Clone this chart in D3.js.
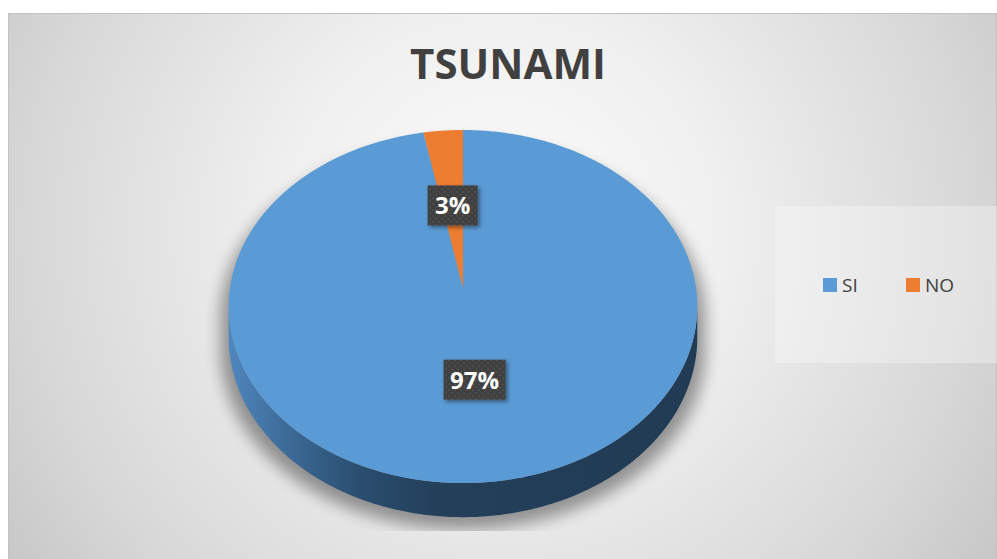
<!DOCTYPE html>
<html>
<head>
<meta charset="utf-8">
<script src="https://cdn.jsdelivr.net/npm/d3@7"></script>
<style>
  html, body { margin: 0; padding: 0; background: #fff; }
  svg { display: block; font-family: "Open Sans", "Noto Sans", sans-serif; }
</style>
</head>
<body>
<div id="wrapper"></div>
<script>
// data
const categories = ['SI', 'NO'];
const values = [97, 3];
const labels = ['97%', '3%'];
const colors = ['#5b9bd5', '#ed7d31'];
const chartTitle = 'TSUNAMI';

const width = 997, height = 559;
// pie geometry (perspective tilt)
const cx = 463, cy = 288;
const A = 233, B = 174.6, p = 0.105, H = 30.5;

const svg = d3.select('#wrapper').append('svg')
  .attr('width', width).attr('height', height);
const defs = svg.append('defs');

// background gradient
const bg = defs.append('radialGradient').attr('id', 'bg')
  .attr('gradientUnits', 'userSpaceOnUse')
  .attr('cx', 500).attr('cy', 230).attr('r', 620);
bg.append('stop').attr('offset', '0%').attr('stop-color', '#fbfbfb');
bg.append('stop').attr('offset', '35%').attr('stop-color', '#f0f0f0');
bg.append('stop').attr('offset', '75%').attr('stop-color', '#d8d8d8');
bg.append('stop').attr('offset', '100%').attr('stop-color', '#c4c4c4');

// side wall gradient
const sg = defs.append('linearGradient').attr('id', 'side')
  .attr('gradientUnits', 'userSpaceOnUse')
  .attr('x1', cx - A).attr('x2', cx + A).attr('y1', 0).attr('y2', 0);
[['0%', '#4f86bd'], ['12%', '#3d6b98'], ['28%', '#2a4d6e'], ['45%', '#233f5a'], ['100%', '#213b54']]
  .forEach(([o, c]) => sg.append('stop').attr('offset', o).attr('stop-color', c));

// dotted pattern for label boxes
const pat = defs.append('pattern').attr('id', 'dots')
  .attr('patternUnits', 'userSpaceOnUse').attr('width', 6).attr('height', 6);
pat.append('rect').attr('width', 6).attr('height', 6).attr('fill', '#3f3f3f');
pat.append('circle').attr('cx', 1.5).attr('cy', 1.5).attr('r', 0.7).attr('fill', '#6a6a6a');
pat.append('circle').attr('cx', 4.5).attr('cy', 4.5).attr('r', 0.7).attr('fill', '#6a6a6a');

const blur = defs.append('filter').attr('id', 'blur')
  .attr('x', '-20%').attr('y', '-20%').attr('width', '140%').attr('height', '140%');
blur.append('feGaussianBlur').attr('stdDeviation', 8);

const lblShadow = defs.append('filter').attr('id', 'lblShadow')
  .attr('x', '-30%').attr('y', '-30%').attr('width', '160%').attr('height', '160%');
lblShadow.append('feDropShadow').attr('dx', 2).attr('dy', 2).attr('stdDeviation', 2)
  .attr('flood-color', '#000').attr('flood-opacity', 0.45);

defs.append('clipPath').attr('id', 'shClip')
  .append('rect').attr('x', 0).attr('y', 0).attr('width', width).attr('height', 531);

// chart area
svg.append('rect')
  .attr('x', 8.5).attr('y', 13.5).attr('width', 988).attr('height', 560)
  .attr('fill', 'url(#bg)').attr('stroke', '#c2c2c2').attr('stroke-width', 1);

// title
svg.append('text')
  .attr('x', 508).attr('y', 79)
  .attr('text-anchor', 'middle')
  .attr('font-size', 42).attr('font-weight', 700)
  .attr('fill', '#404040')
  .text(chartTitle);

// projection helpers; angle measured clockwise from 12 o'clock
const proj = (a, r, dz) => {
  const u = r * Math.sin(a), v = r * Math.cos(a);
  const w = 1 + p * v;
  return [cx + A * u / w, cy - B * v / w + (dz || 0) * H / w];
};
const arcPts = (a0, a1, dz) => {
  const n = Math.max(2, Math.ceil(Math.abs(a1 - a0) / 0.01));
  return d3.range(n + 1).map(i => proj(a0 + (a1 - a0) * i / n, 1, dz));
};
const line = d3.line();

const pie = d3.pie().sort(null).value(d => d)(values);

// side wall (front half silhouette)
const t1 = Math.acos(-p), t2 = 2 * Math.PI - Math.acos(-p);
const sidePts = arcPts(t1, t2, 0).concat(arcPts(t2, t1, 1));

// shadow under the pie
const backPts = arcPts(t2 - 2 * Math.PI, t1, 0);
const shadowPts = backPts.concat(arcPts(t1, t2, 1))
  .map(([x, y]) => [cx + (x - cx) * 1.035, y + 12]);
svg.append('g').attr('clip-path', 'url(#shClip)')
  .append('path')
  .attr('d', line(shadowPts) + 'Z')
  .attr('fill', '#000').attr('opacity', 0.38)
  .attr('filter', 'url(#blur)');

svg.append('path')
  .attr('d', line(sidePts) + 'Z')
  .attr('fill', 'url(#side)');

// top faces
svg.append('g').selectAll('path')
  .data(pie).join('path')
  .attr('d', d => line([[cx, cy]].concat(arcPts(d.startAngle, d.endAngle, 0))) + 'Z')
  .attr('fill', (d, i) => colors[i]);

// data labels
const lbl = svg.append('g').selectAll('g')
  .data(pie).join('g')
  .attr('transform', d => {
    const [x, y] = proj((d.startAngle + d.endAngle) / 2, 0.5, 0);
    return `translate(${x},${y})`;
  });
lbl.append('rect')
  .attr('x', (d, i) => i === 0 ? -31 : -25).attr('y', -20)
  .attr('width', (d, i) => i === 0 ? 62 : 50).attr('height', 40)
  .attr('fill', 'url(#dots)')
  .attr('filter', 'url(#lblShadow)');
lbl.append('text')
  .attr('text-anchor', 'middle').attr('y', 9)
  .attr('font-size', 24).attr('font-weight', 700)
  .attr('fill', '#fff')
  .text((d, i) => labels[i]);

// legend
svg.append('rect')
  .attr('x', 775).attr('y', 206).attr('width', 222).attr('height', 157)
  .attr('fill', '#fff').attr('opacity', 0.3);
const leg = svg.append('g').selectAll('g')
  .data(categories).join('g')
  .attr('transform', (d, i) => `translate(${823 + i * 83},278)`);
leg.append('rect').attr('width', 14).attr('height', 14)
  .attr('fill', (d, i) => colors[i]);
leg.append('text')
  .attr('x', 19).attr('y', 14)
  .attr('font-size', 19).attr('fill', '#404040')
  .text(d => d);
</script>
</body>
</html>
